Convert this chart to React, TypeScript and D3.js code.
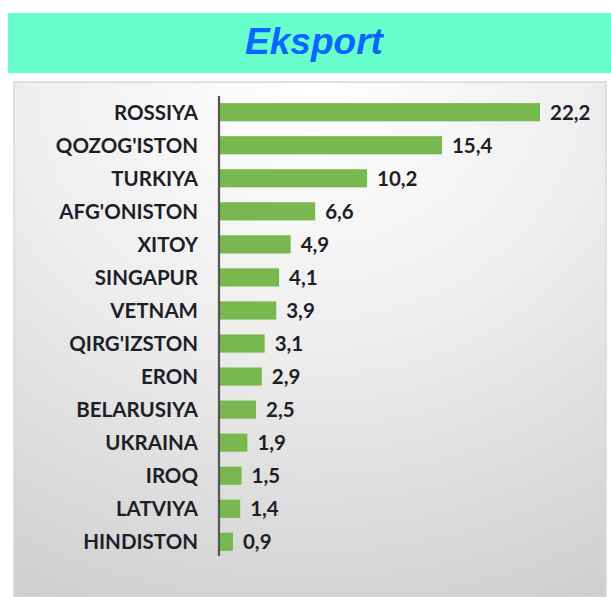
import React from "react";
import * as d3 from "d3";

const countries = [
  "ROSSIYA", "QOZOG'ISTON", "TURKIYA", "AFG'ONISTON", "XITOY", "SINGAPUR", "VETNAM",
  "QIRG'IZSTON", "ERON", "BELARUSIYA", "UKRAINA", "IROQ", "LATVIYA", "HINDISTON",
];
const values = [22.2, 15.4, 10.2, 6.6, 4.9, 4.1, 3.9, 3.1, 2.9, 2.5, 1.9, 1.5, 1.4, 0.9];
const title = "Eksport";

export default function App() {
  const W = 611, H = 597;
  const x = d3.scaleLinear().domain([0, 22.2]).range([220, 540]);
  const y = d3.scaleBand().domain(countries).range([95.5, 558.5]).paddingInner(0.45).paddingOuter(0.23);
  const fmt = (v: number) => d3.format(".1f")(v).replace(".", ",");
  const font = "Lato, 'Open Sans', sans-serif";
  return (
    <svg width={W} height={H} style={{ position: "absolute", left: 0, top: 0 }}>
      <defs>
        <radialGradient id="bg" cx="0.5" cy="0" r="1.1" fx="0.5" fy="0">
          <stop offset="0" stopColor="#ffffff" />
          <stop offset="0.45" stopColor="#eeeeee" />
          <stop offset="1" stopColor="#cfcfcf" />
        </radialGradient>
      </defs>
      <rect x={0} y={0} width={W} height={H} fill="#ffffff" />
      <rect x={8} y={13} width={W - 8} height={60} fill="#66FFCC" />
      <text x={314} y={54} textAnchor="middle" fontFamily="'Liberation Sans', Arial, sans-serif"
        fontWeight="bold" fontStyle="italic" fontSize={37} fill="#0A66FF">{title}</text>
      <rect x={14} y={82} width={592} height={H - 82} fill="url(#bg)" stroke="#d8d8d8" strokeWidth={1.5} />
      {countries.map((c, i) => (
        <g key={c}>
          <rect x={x(0)} y={y(c)!} width={x(values[i]) - x(0)} height={y.bandwidth()} fill="#78B84E" />
          <text x={198} y={y(c)! + y.bandwidth() / 2} dy="0.36em" textAnchor="end"
            fontFamily={font} fontWeight="bold" fontSize={20.5} fill="#1e1e28">{c}</text>
          <text x={x(values[i]) + 10} y={y(c)! + y.bandwidth() / 2} dy="0.36em" textAnchor="start"
            fontFamily={font} fontWeight="bold" fontSize={20.5} fill="#1e1e28">{fmt(values[i])}</text>
        </g>
      ))}
      <line x1={219} x2={219} y1={96} y2={556} stroke="#555555" strokeWidth={2.2} />
    </svg>
  );
}
